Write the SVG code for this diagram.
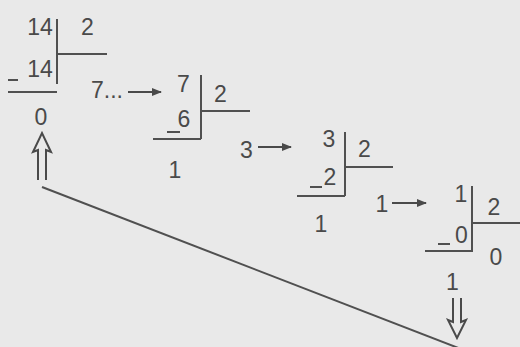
<svg xmlns="http://www.w3.org/2000/svg" width="520" height="347" viewBox="0 0 520 347">
<defs>
<marker id="ah" markerWidth="10" markerHeight="8" refX="9" refY="4" orient="auto" markerUnits="userSpaceOnUse">
<path d="M0,0 L10,4 L0,8 Z" fill="#4a4a4a"/>
</marker>
<style>
text{font-family:"Liberation Sans",Arial,sans-serif;font-size:23px;fill:#4a4a4a;text-anchor:middle}
.l{stroke:#505050;stroke-width:2;fill:none}
.c{stroke:#4a4a4a;stroke-width:2.2;fill:none}
.d{stroke:#4a4a4a;stroke-width:2;fill:none;stroke-linejoin:miter}
</style>
</defs>
<rect width="520" height="347" fill="#e9e9e9"/>
<g id="div14">
<text x="40" y="35">14</text>
<text x="87.5" y="35">2</text>
<text x="40" y="77">14</text>
<line class="l" x1="8" y1="80" x2="18" y2="80"/>
<line class="l" x1="57" y1="19" x2="57" y2="84"/>
<line class="l" x1="58" y1="54" x2="107" y2="54"/>
<line class="l" x1="8" y1="92" x2="57" y2="92"/>
<text x="41" y="125">0</text>
</g>
<g id="div7">
<text x="183.5" y="92">7</text>
<text x="220.5" y="102">2</text>
<text x="184" y="127">6</text>
<line class="l" x1="167" y1="132" x2="180" y2="132"/>
<line class="l" x1="201" y1="75" x2="201" y2="139"/>
<line class="l" x1="202" y1="111" x2="250" y2="111"/>
<line class="l" x1="153" y1="139" x2="201" y2="139"/>
<text x="175" y="178">1</text>
</g>
<g id="div3">
<text x="329" y="147">3</text>
<text x="364.5" y="157">2</text>
<text x="330" y="185">2</text>
<line class="l" x1="310" y1="187" x2="322" y2="187"/>
<line class="l" x1="345" y1="132" x2="345" y2="196"/>
<line class="l" x1="346" y1="167" x2="393" y2="167"/>
<line class="l" x1="297" y1="196" x2="345" y2="196"/>
<text x="321" y="232">1</text>
</g>
<g id="div1">
<text x="461" y="202">1</text>
<text x="494" y="215">2</text>
<text x="461.5" y="243">0</text>
<line class="l" x1="438" y1="244" x2="450" y2="244"/>
<line class="l" x1="472" y1="186" x2="472" y2="252"/>
<line class="l" x1="473" y1="223" x2="520" y2="223"/>
<line class="l" x1="425" y1="251" x2="472" y2="251"/>
<text x="496" y="265">0</text>
<text x="452.5" y="290">1</text>
</g>
<g id="connectors">
<text x="107" y="98">7...</text>
<line class="c" x1="128" y1="92" x2="161" y2="92" marker-end="url(#ah)"/>
<text x="246.5" y="158">3</text>
<line class="c" x1="258" y1="147" x2="291" y2="147" marker-end="url(#ah)"/>
<text x="382" y="212">1</text>
<line class="c" x1="392" y1="203" x2="426" y2="203" marker-end="url(#ah)"/>
<path class="d" d="M38,180 V150 L33,152 L42,133 L51,152 L46,150 V180"/>
<path class="d" d="M453,298 V322 L448,320 L457,338 L466,320 L461,322 V298"/>
<line class="l" x1="42" y1="187" x2="461" y2="349"/>
</g>
</svg>
